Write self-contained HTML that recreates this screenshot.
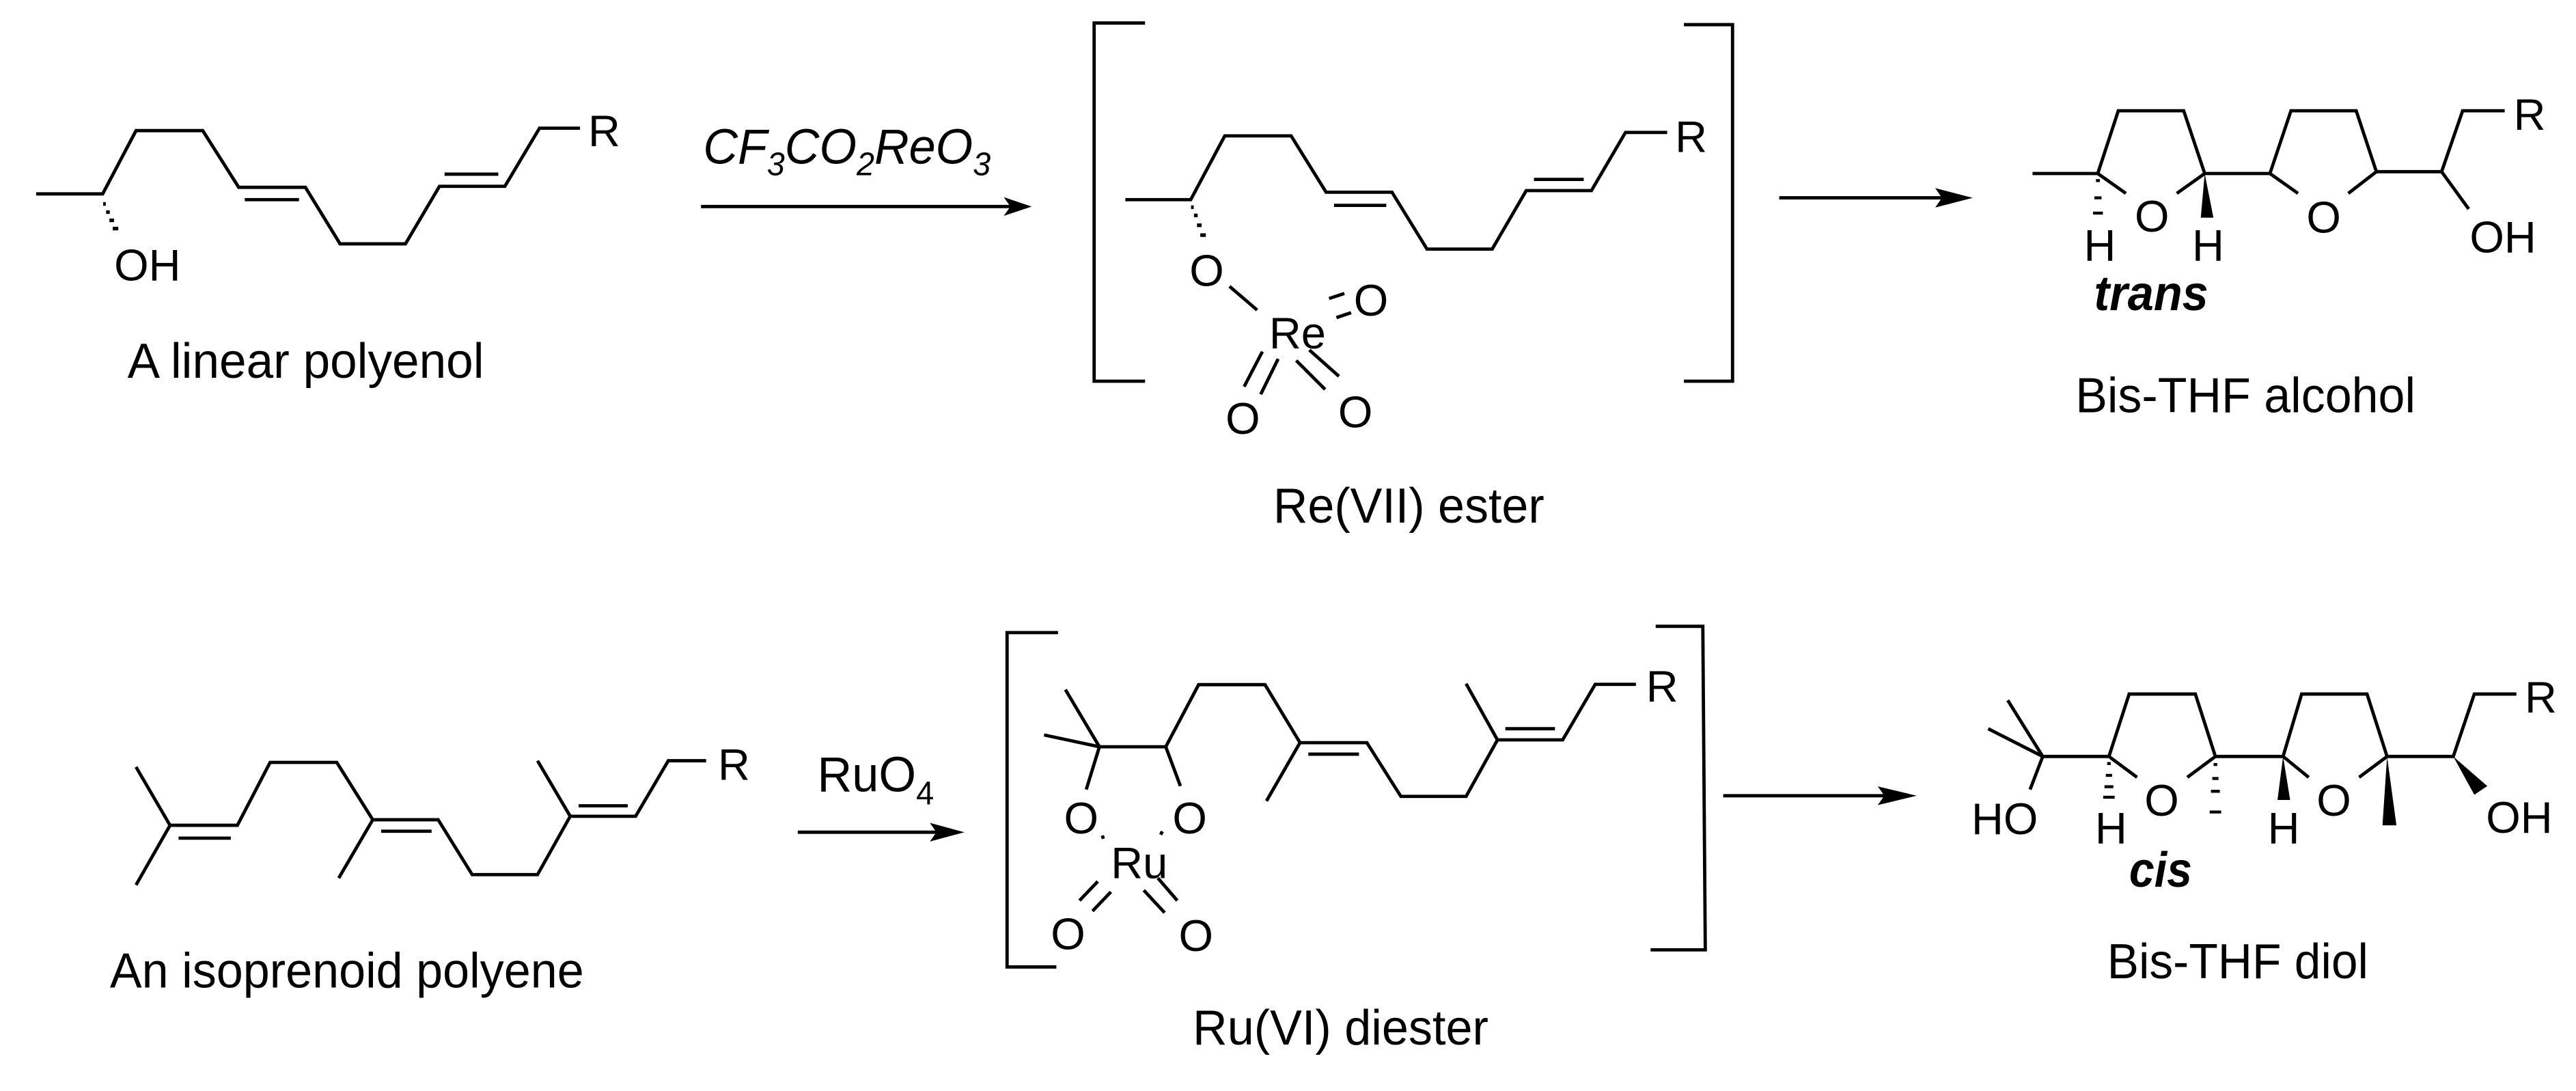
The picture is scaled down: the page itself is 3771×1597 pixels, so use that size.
<!DOCTYPE html>
<html><head><meta charset="utf-8"><style>
html,body{margin:0;padding:0;background:#fff;}
svg{display:block;}
text{font-family:"Liberation Sans",Arial,sans-serif;font-size:27px;fill:#000;}
.lb{font-size:30px;}
.it{font-style:italic;}
.bi{font-style:italic;font-weight:bold;}
</style></head><body>
<svg width="3771" height="1597" viewBox="0 0 1568 664" preserveAspectRatio="none" xmlns="http://www.w3.org/2000/svg">
<g fill="none" stroke="#000" stroke-width="2" stroke-linejoin="miter">
<polyline points="22,118 62.5,118 82.8,79.5 123.4,79.5 145.3,114 185.9,114 207,148.4 246.8,148.4 267.5,113.4 307.3,113.4 328.4,78 353,78"/>
<line x1="149" y1="121.5" x2="182" y2="121.5"/>
<line x1="270.6" y1="106" x2="303.3" y2="106"/>
<line x1="426.7" y1="125.7" x2="620" y2="125.7"/>
<polyline points="697,14 666,14 666,232 697,232"/>
<polyline points="1025,15 1054.6,15 1054.6,232 1025,232"/>
<polyline points="685,121.5 724.8,121.5 745.5,82.7 785.9,82.7 807.2,117 847.3,117 868.6,151.6 908.3,151.6 929,116 968.7,116 989.4,80.6 1014.8,80.6"/>
<line x1="812" y1="125" x2="843.8" y2="125"/>
<line x1="933.7" y1="109.2" x2="964" y2="109.2"/>
<line x1="748.4" y1="174.3" x2="765.2" y2="188.7"/>
<line x1="809" y1="181.7" x2="818.3" y2="178.6"/>
<line x1="813.5" y1="193.3" x2="822.4" y2="190.3"/>
<line x1="768.4" y1="214" x2="757.3" y2="235.3"/>
<line x1="778" y1="218.4" x2="767.4" y2="240"/>
<line x1="797" y1="213" x2="815" y2="229"/>
<line x1="789" y1="219.4" x2="806.6" y2="237"/>
<line x1="1083" y1="120.4" x2="1194" y2="120.4"/>
<polyline points="1237.2,105.6 1276.9,105.6 1289.4,67.4 1329.2,67.4 1342,105.6 1381.7,105.6 1394.5,67.4 1434.2,67.4 1446.5,104.5 1486.2,104.5 1499,67.4 1524.6,67.4"/>
<line x1="1276.9" y1="105.6" x2="1294" y2="117.7"/>
<line x1="1342" y1="105.6" x2="1325" y2="117.7"/>
<line x1="1381.7" y1="105.6" x2="1398.8" y2="117.7"/>
<line x1="1446.5" y1="104.5" x2="1429.4" y2="117.7"/>
<line x1="1486.2" y1="104.5" x2="1502.7" y2="127.2"/>
<polyline points="82.8,466.8 103.5,502.3 82.8,538.6"/>
<polyline points="103.5,502.3 144.5,502.3 164.4,464 205,464 226.9,498.9 266.7,498.9 287.4,532.3 327.2,532.3 347.1,496.8 386.9,496.8 406.8,463 429.8,463"/>
<line x1="108.7" y1="510.1" x2="140.5" y2="510.1"/>
<line x1="232" y1="505.9" x2="262.7" y2="505.9"/>
<line x1="226.9" y1="498.9" x2="206.2" y2="534.4"/>
<line x1="347.1" y1="496.8" x2="327.2" y2="463"/>
<line x1="352.2" y1="490.4" x2="382.1" y2="490.4"/>
<line x1="485.6" y1="506.5" x2="580" y2="506.5"/>
<polyline points="644,385 613,385 613,588.5 643,588.5"/>
<polyline points="1007.8,381.2 1036.5,381.2 1038,578.1 1004.7,578.1"/>
<line x1="669.2" y1="454.5" x2="648.5" y2="419.7"/>
<line x1="669.2" y1="454.5" x2="635.5" y2="447.3"/>
<line x1="669.2" y1="454.5" x2="661.2" y2="480.5"/>
<line x1="709.6" y1="454.5" x2="718.5" y2="478.4"/>
<polyline points="669.2,454.5 709.6,454.5 729.6,416.7 770,416.7 791.3,452 832,452 852.7,484.7 892.4,484.7 911.5,450.3 951.2,450.3 971,416.5 995.8,416.5"/>
<line x1="796.4" y1="459" x2="827.2" y2="459"/>
<line x1="791.3" y1="452" x2="770.9" y2="487.5"/>
<line x1="911.5" y1="450.3" x2="892.4" y2="416.1"/>
<line x1="916.3" y1="443.5" x2="946.5" y2="443.5"/>
<line x1="671" y1="508.5" x2="671.6" y2="510.5"/>
<line x1="707.5" y1="506" x2="706.5" y2="508"/>
<line x1="668.2" y1="536.5" x2="657.1" y2="548.1"/>
<line x1="676.2" y1="542.8" x2="665" y2="554.5"/>
<line x1="704.8" y1="534.4" x2="716.6" y2="548.1"/>
<line x1="696.2" y1="541.8" x2="708.9" y2="555.5"/>
<line x1="1048.9" y1="484.3" x2="1160" y2="484.3"/>
<line x1="1243.4" y1="460.4" x2="1222.1" y2="426.2"/>
<line x1="1243.4" y1="460.4" x2="1210.2" y2="443.5"/>
<line x1="1243.4" y1="460.4" x2="1235.7" y2="480.5"/>
<polyline points="1243.4,460.4 1283.7,460.4 1296,422.4 1336.3,422.4 1348.5,460.4 1389.7,460.4 1401,422.4 1440.8,422.4 1453,460.4 1493.3,460.4 1506.1,422.4 1531.7,422.4"/>
<line x1="1283.7" y1="460.4" x2="1300.8" y2="473.1"/>
<line x1="1348.5" y1="460.4" x2="1331.4" y2="473.1"/>
<line x1="1389.7" y1="460.4" x2="1405.3" y2="473.1"/>
<line x1="1453" y1="460.4" x2="1436" y2="473.1"/>
</g>
<g fill="#000" stroke="none">
<rect x="62.8" y="123" width="1.6" height="2.2"/>
<rect x="64.6" y="128" width="2.2" height="2.2"/>
<rect x="66.6" y="133" width="2.8" height="2.2"/>
<rect x="68.6" y="138" width="3.4" height="2.2"/>
<rect x="725" y="125" width="1.6" height="2.2"/>
<rect x="726.8" y="130" width="2.2" height="2.2"/>
<rect x="728.6" y="136" width="2.8" height="2.2"/>
<rect x="730.6" y="142" width="3.4" height="2.2"/>
<rect x="1275.8" y="109" width="2.4" height="1.8"/>
<rect x="1274.8" y="119.5" width="4.4" height="1.8"/>
<rect x="1274" y="128.8" width="6" height="1.8"/>
<polygon points="1342,105.6 1339.6,132.5 1347.3,132.5"/>
<rect x="1282.6" y="463.8" width="2.2" height="1.8"/>
<rect x="1281.8" y="471" width="3.8" height="1.8"/>
<rect x="1281" y="477.9" width="5.4" height="1.8"/>
<rect x="1280.2" y="484.3" width="7" height="1.8"/>
<rect x="1347.4" y="464.4" width="2.2" height="1.8"/>
<rect x="1346.6" y="472.9" width="3.8" height="1.8"/>
<rect x="1345.8" y="480.7" width="5.4" height="1.8"/>
<rect x="1345" y="493.3" width="7" height="1.8"/>
<polygon points="1389.7,460.4 1386.3,486.9 1394,486.9"/>
<polygon points="1453,460.4 1450.2,502.3 1458.7,502.3"/>
<polygon points="1493.3,460.4 1506.1,483.7 1514,478.4"/>
<polygon points="628,125.7 611,120 615,125.7 611,131.4"/>
<polygon points="1200.8,120.4 1178,114.5 1182,120.4 1178,126.3"/>
<polygon points="587,506.5 566,500.8 570,506.5 566,512.2"/>
<polygon points="1166.7,484.3 1143,478.6 1147,484.3 1143,490"/>
</g>
<text x="358" y="89">R</text>
<text x="69.5" y="170.6">OH</text>
<text class="lb" x="77.6" y="230" textLength="217" lengthAdjust="spacingAndGlyphs">A linear polyenol</text>
<text class="it lb" x="428" y="99.6" textLength="175" lengthAdjust="spacingAndGlyphs">CF<tspan font-size="20" dy="7">3</tspan><tspan dy="-7">CO</tspan><tspan font-size="20" dy="7">2</tspan><tspan dy="-7">ReO</tspan><tspan font-size="20" dy="7">3</tspan></text>
<text x="1019.6" y="92.6">R</text>
<text x="724" y="174">O</text>
<text x="772.5" y="212">Re</text>
<text x="824" y="192">O</text>
<text x="746" y="264">O</text>
<text x="814.5" y="260">O</text>
<text class="lb" x="775" y="318" textLength="165" lengthAdjust="spacingAndGlyphs">Re(VII) ester</text>
<text x="1299.4" y="141">O</text>
<text x="1268.4" y="158.6">H</text>
<text x="1334.3" y="158.6">H</text>
<text x="1403.9" y="141.6">O</text>
<text x="1530" y="78.9">R</text>
<text x="1503.3" y="153.7">OH</text>
<text class="bi lb" x="1274.6" y="188.7" textLength="69.6" lengthAdjust="spacingAndGlyphs">trans</text>
<text class="lb" x="1263.3" y="251" textLength="207" lengthAdjust="spacingAndGlyphs">Bis-THF alcohol</text>
<text x="437" y="474.6">R</text>
<text class="lb" x="66.9" y="601" textLength="288.5" lengthAdjust="spacingAndGlyphs">An isoprenoid polyene</text>
<text class="lb" x="497.5" y="481.6" textLength="71" lengthAdjust="spacingAndGlyphs">RuO<tspan font-size="20" dy="8">4</tspan></text>
<text x="647.6" y="507.3">O</text>
<text x="713.7" y="507.3">O</text>
<text x="676.2" y="534.4">Ru</text>
<text x="639.6" y="577.7">O</text>
<text x="717.5" y="578.8">O</text>
<text x="1002" y="427">R</text>
<text class="lb" x="726" y="635.8" textLength="180" lengthAdjust="spacingAndGlyphs">Ru(VI) diester</text>
<text x="1200" y="507.6">HO</text>
<text x="1305.3" y="496.4">O</text>
<text x="1275.2" y="513.3">H</text>
<text x="1410.1" y="496.4">O</text>
<text x="1380.3" y="513.3">H</text>
<text x="1536.8" y="433.6">R</text>
<text x="1513.2" y="506.9">OH</text>
<text class="bi lb" x="1296" y="539.7" textLength="38.3" lengthAdjust="spacingAndGlyphs">cis</text>
<text class="lb" x="1282.6" y="595.3" textLength="159" lengthAdjust="spacingAndGlyphs">Bis-THF diol</text>
</svg>
</body></html>
